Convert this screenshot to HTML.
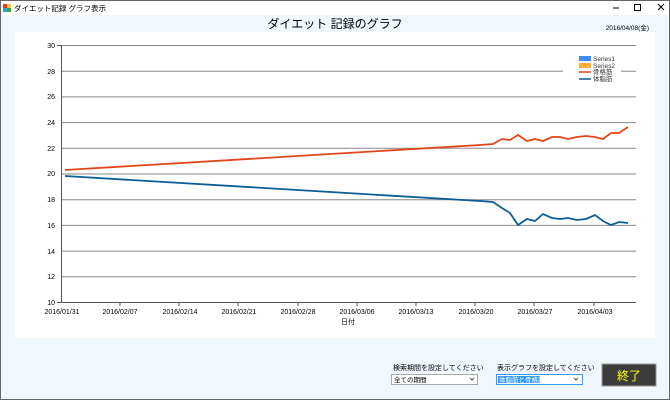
<!DOCTYPE html><html><head><meta charset="utf-8"><style>
body{margin:0;width:670px;height:400px;overflow:hidden;background:#fff;font-family:"Liberation Sans","Noto Sans CJK JP",sans-serif}
</style></head><body>
<svg width="670" height="400" xmlns="http://www.w3.org/2000/svg" font-family="Liberation Sans, Noto Sans CJK JP, sans-serif">
<rect x="0" y="0" width="670" height="400" fill="#f0f7ff"/>
<rect x="0" y="0" width="670" height="15" fill="#fff"/>
<rect x="0.5" y="0.5" width="669" height="399" fill="none" stroke="#666"/>
<rect x="3" y="4" width="4" height="4" fill="#e33"/><rect x="7" y="4" width="4" height="4" fill="#fc3"/><rect x="3" y="8" width="4" height="4" fill="#39f"/><rect x="7" y="8" width="4" height="4" fill="#3a3"/>
<text x="14" y="11" font-size="7.5" fill="#000">ダイエット記録 グラフ表示</text>
<line x1="613" y1="8" x2="619" y2="8" stroke="#000"/>
<rect x="634.5" y="4.5" width="6" height="6" fill="none" stroke="#000"/>
<path d="M658 4 L664 10 M664 4 L658 10" stroke="#000"/>
<text x="335" y="28" font-size="12" text-anchor="middle" fill="#000">ダイエット 記録のグラフ</text>
<text x="649" y="30" font-size="6.5" text-anchor="end" fill="#000">2016/04/08(金)</text>
<rect x="15" y="32" width="640" height="306" fill="#fff"/>
<g stroke="#888" stroke-width="1">
<line x1="61" y1="45.5" x2="636" y2="45.5"/><line x1="61" y1="71.2" x2="636" y2="71.2"/><line x1="61" y1="96.9" x2="636" y2="96.9"/><line x1="61" y1="122.6" x2="636" y2="122.6"/><line x1="61" y1="148.3" x2="636" y2="148.3"/><line x1="61" y1="174" x2="636" y2="174"/><line x1="61" y1="199.7" x2="636" y2="199.7"/><line x1="61" y1="225.4" x2="636" y2="225.4"/><line x1="61" y1="251.1" x2="636" y2="251.1"/><line x1="61" y1="276.8" x2="636" y2="276.8"/>
</g>
<rect x="563" y="58" width="58" height="30" fill="#fff"/>
<line x1="61.5" y1="45" x2="61.5" y2="303" stroke="#555"/>
<line x1="61" y1="302.5" x2="636" y2="302.5" stroke="#555"/>
<g font-size="7" fill="#000" text-anchor="end">
<text x="55" y="48">30</text><text x="55" y="74">28</text><text x="55" y="99">26</text><text x="55" y="125">24</text><text x="55" y="151">22</text><text x="55" y="176">20</text><text x="55" y="202">18</text><text x="55" y="228">16</text><text x="55" y="254">14</text><text x="55" y="279">12</text><text x="55" y="305">10</text>
</g>
<g stroke="#555"><line x1="57" y1="45.5" x2="61" y2="45.5"/><line x1="57" y1="302.5" x2="61" y2="302.5"/>
<line x1="120" y1="302" x2="120" y2="306"/><line x1="179" y1="302" x2="179" y2="306"/><line x1="238" y1="302" x2="238" y2="306"/><line x1="298" y1="302" x2="298" y2="306"/><line x1="357" y1="302" x2="357" y2="306"/><line x1="416" y1="302" x2="416" y2="306"/><line x1="475" y1="302" x2="475" y2="306"/><line x1="534" y1="302" x2="534" y2="306"/><line x1="594" y1="302" x2="594" y2="306"/></g>
<g font-size="7" fill="#000" text-anchor="middle">
<text x="62" y="314">2016/01/31</text><text x="120" y="314">2016/02/07</text><text x="180" y="314">2016/02/14</text><text x="239" y="314">2016/02/21</text><text x="298" y="314">2016/02/28</text><text x="357" y="314">2016/03/06</text><text x="416" y="314">2016/03/13</text><text x="476" y="314">2016/03/20</text><text x="535" y="314">2016/03/27</text><text x="595" y="314">2016/04/03</text>
<text x="348" y="324">日付</text>
</g>
<polyline fill="none" stroke="#e0461a" stroke-width="1.8" points="65,170 480,145 493,144 502,139 510,140 518,135 527,141 535,139 543,141 552,137 560,137 568,139 577,137 586,136 595,137 603,139 611,133 619,133 628,127"/>
<polyline fill="none" stroke="#0b5e96" stroke-width="1.8" points="65,176 480,201 493,202 502,208 510,213 518,225 527,219 535,221 543,214 552,218 560,219 568,218 577,220 586,219 595,215 603,221 611,225 619,222 628,223"/>
<g font-size="6.5" fill="#333">
<rect x="579" y="56" width="12" height="5" fill="#3d8ef0"/><text x="593" y="61">Series1</text>
<rect x="579" y="63" width="12" height="5" fill="#ffac33"/><text x="593" y="68">Series2</text>
<line x1="579" y1="72" x2="591" y2="72" stroke="#e0461a" stroke-width="1.5"/><text x="593" y="74">骨格筋</text>
<line x1="579" y1="79" x2="591" y2="79" stroke="#0b5e96" stroke-width="1.5"/><text x="593" y="81">体脂肪</text>
</g>
<text x="393" y="370" font-size="7" fill="#000">検索期間を設定してください</text>
<text x="497" y="370" font-size="7" fill="#000">表示グラフを設定してください</text>
<rect x="391.5" y="374.5" width="86" height="10" fill="#fff" stroke="#aaa"/>
<text x="394" y="382" font-size="6.5" fill="#000">全ての期間</text>
<path d="M470 378 L472 380 L474 378" stroke="#555" fill="none"/>
<rect x="496.5" y="374.5" width="86" height="10" fill="#fff" stroke="#39f"/>
<rect x="498" y="376" width="42" height="7" fill="#39f"/>
<text x="499" y="382" font-size="6.5" fill="#fff">体脂肪と骨格筋</text>
<path d="M574 378 L576 380 L578 378" stroke="#555" fill="none"/>
<rect x="602" y="364" width="54" height="22" fill="#3c3c3c" stroke="#999"/>
<text x="629" y="380" font-size="12" fill="#ff0" text-anchor="middle">終了</text>
</svg>
</body></html>
